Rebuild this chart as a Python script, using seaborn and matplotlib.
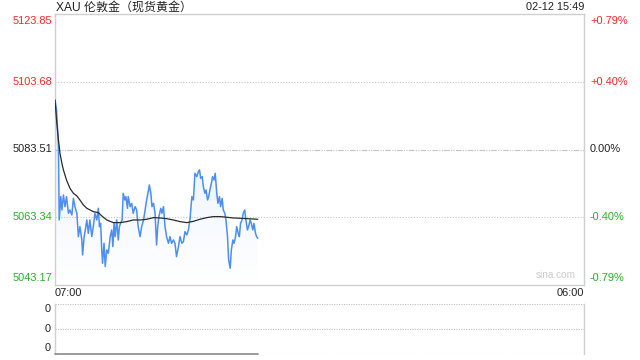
import numpy as np
import pandas as pd
import matplotlib
matplotlib.use("Agg")
import matplotlib.pyplot as plt
import seaborn as sns

# ---------------- data ----------------
# minutes after 07:00
price_minutes = [0, 4, 9, 11, 15, 18, 22, 26, 30, 35, 39, 44, 48, 52, 57, 61, 65, 70, 72, 76,
                 79, 83, 87, 91, 96, 100, 104, 109, 113, 116, 119, 122, 124, 128, 131, 135, 139, 144, 148, 151,
                 154, 157, 161, 165, 168, 171, 175, 178, 182, 185, 189, 191, 196, 200, 204, 209, 213, 217, 222, 226,
                 231, 235, 239, 244, 246, 250, 253, 257, 261, 265, 268, 271, 276, 279, 283, 287, 291, 296, 300, 304,
                 309, 313, 317, 322, 326, 331, 335, 339, 344, 348, 352, 357, 361, 365, 370, 374, 377, 380, 384, 387,
                 391, 394, 398, 401, 404, 408, 411, 415, 418, 422, 425, 429, 432, 436, 439, 443, 446, 450, 453, 457,
                 460, 464, 467, 471, 474, 478, 481, 484, 488, 491, 495, 498, 502, 505, 509, 512, 516, 519, 523, 526, 529]
price_values = [5098.25, 5095.27, 5084.36, 5062.53, 5069.48, 5065.51, 5069.97, 5066.50, 5069.48, 5064.52,
                5065.51, 5064.02, 5068.98, 5066.50, 5064.52, 5057.57, 5060.55, 5056.58, 5052.12, 5057.57,
                5059.56, 5062.53, 5058.56, 5062.53, 5057.57, 5060.55, 5064.52, 5062.53, 5066.01, 5060.55,
                5061.54, 5053.61, 5049.64, 5055.59, 5048.65, 5053.61, 5052.62, 5057.57, 5059.56, 5054.60,
                5061.54, 5057.57, 5062.53, 5056.58, 5060.55, 5061.54, 5062.53, 5070.47, 5068.48, 5069.48,
                5066.01, 5069.48, 5066.50, 5067.49, 5064.52, 5066.50, 5065.51, 5060.55, 5057.57, 5060.55,
                5062.53, 5065.51, 5068.48, 5071.46, 5072.95, 5070.47, 5066.50, 5067.49, 5064.52, 5055.10,
                5060.55, 5063.53, 5066.01, 5064.52, 5066.50, 5060.55, 5057.57, 5055.59, 5057.57, 5055.59,
                5056.58, 5055.59, 5051.62, 5054.60, 5057.57, 5055.59, 5056.09, 5059.06, 5058.07, 5059.56,
                5062.53, 5069.48, 5068.48, 5076.42, 5075.43, 5076.92, 5077.42, 5074.93, 5075.43, 5072.46,
                5070.47, 5071.46, 5068.48, 5069.48, 5071.46, 5073.45, 5075.43, 5074.44, 5076.42, 5070.47,
                5067.49, 5069.48, 5066.50, 5068.98, 5065.51, 5064.52, 5062.53, 5057.57, 5050.63, 5048.15,
                5053.61, 5056.58, 5055.59, 5057.57, 5060.55, 5058.56, 5057.57, 5061.54, 5062.53, 5064.52,
                5065.51, 5062.53, 5059.56, 5060.55, 5062.53, 5061.54, 5059.56, 5061.54, 5058.56, 5057.57, 5057.07]

avg_minutes = [0, 4, 9, 13, 18, 22, 30, 39, 48, 57, 65, 74, 83, 100, 113, 122, 135, 152, 170, 187,
               204, 222, 239, 257, 274, 291, 309, 326, 344, 361, 378, 396, 413, 431, 448, 465, 483, 500, 529]
avg_values = [5098.25, 5092.29, 5086.34, 5082.37, 5079.40, 5077.41, 5074.44, 5071.96, 5070.47, 5069.68,
              5068.48, 5066.99, 5066.01, 5065.01, 5064.72, 5063.73, 5062.53, 5061.74, 5061.74, 5062.04,
              5062.53, 5062.53, 5062.73, 5063.23, 5063.13, 5062.93, 5062.53, 5062.04, 5061.74, 5062.13,
              5062.73, 5063.23, 5063.53, 5063.53, 5063.34, 5063.13, 5063.04, 5062.93, 5062.73]

left_ticks = [5123.85, 5103.68, 5083.51, 5063.34, 5043.17]
left_labels = ["5123.85", "5103.68", "5083.51", "5063.34", "5043.17"]
right_labels = ["+0.79%", "+0.40%", "0.00%", "-0.40%", "-0.79%"]
tick_colors = ["#f2282b", "#f2282b", "#222222", "#2aad2a", "#2aad2a"]
x_labels = ["07:00", "06:00"]
vol_minutes = [0, 529]
vol_values = [0, 0]
vol_labels = ["0", "0", "0"]
title = "XAU 伦敦金（现货黄金）"
stamp = "02-12 15:49"

# ---------------- style ----------------
sns.set_theme(style="white")
plt.rcParams["font.family"] = ["Liberation Sans", "Noto Sans CJK SC", "DejaVu Sans"]

W, H = 640, 360
fig = plt.figure(figsize=(6.4, 3.6), dpi=100)
px = 0.72  # px -> pt


def fx(x):
    return x / W


def fy(y):
    return 1 - y / H


ax = fig.add_axes([fx(55), fy(285), fx(584) - fx(55), fy(14) - fy(285)])
axv = fig.add_axes([fx(55), fy(354), fx(584) - fx(55), fy(304) - fy(354)])

ymin, ymax = 5043.17, 5123.85
xmax = 1380

df = pd.DataFrame({"t": price_minutes, "p": price_values})
dfa = pd.DataFrame({"t": avg_minutes, "p": avg_values})

# gradient fill under price line
poly = ax.fill_between(df["t"], df["p"], ymin, color="none", lw=0)
grad = np.zeros((100, 2, 4))
base = matplotlib.colors.to_rgb("#5a95ee")
grad[..., 0], grad[..., 1], grad[..., 2] = base
alph = np.linspace(0.16, 0.0, 100)
grad[..., 3] = alph[:, None]
im = ax.imshow(grad, extent=[0, max(price_minutes), ymin, 5100], aspect="auto",
               origin="upper", zorder=1)
im.set_clip_path(poly.get_paths()[0], transform=ax.transData)

sns.lineplot(data=df, x="t", y="p", ax=ax, color="#4d8ff0", lw=1.1, zorder=3)
sns.lineplot(data=dfa, x="t", y="p", ax=ax, color="#2b2b2b", lw=0.9, zorder=4)

ax.set_xlim(0, xmax)
ax.set_ylim(ymin, ymax)
ax.set_xticks([])
ax.set_yticks([])
ax.set_xlabel("")
ax.set_ylabel("")
for s in ax.spines.values():
    s.set_color("#cfcfcf")
    s.set_linewidth(1)

# grid lines
ax.axhline(left_ticks[1], color="#c8c8c8", lw=0.8, ls=(0, (1, 1.5)), zorder=0)
ax.axhline(left_ticks[2], color="#c4c4c4", lw=0.8, ls=(0, (5, 1.2, 1, 1.2, 1, 1.2)), zorder=0)
ax.axhline(left_ticks[3], color="#c8c8c8", lw=0.8, ls=(0, (1, 1.5)), zorder=0)

fs = 11 * px
for i, (v, l, r, c) in enumerate(zip(left_ticks, left_labels, right_labels, tick_colors)):
    dy = 0
    if i == 0:
        dy = -7
    if i == len(left_ticks) - 1:
        dy = 7
    ax.annotate(l, xy=(0, v), xycoords=("axes fraction", "data"), xytext=(-3, dy),
                textcoords="offset pixels", ha="right", va="center", color=c, fontsize=fs)
    ax.annotate(r, xy=(1, v), xycoords=("axes fraction", "data"), xytext=(6, dy),
                textcoords="offset pixels", ha="left", va="center", color=c, fontsize=fs)

fig.text(fx(56), fy(7.5), title, ha="left", va="center", fontsize=12 * px, color="#222222")
fig.text(fx(584), fy(7.5), stamp, ha="right", va="center", fontsize=11 * px, color="#222222")
fig.text(fx(55), fy(293), x_labels[0], ha="left", va="center", fontsize=11 * px, color="#222222")
fig.text(fx(584), fy(293), x_labels[1], ha="right", va="center", fontsize=11 * px, color="#222222")
ax.text(0.985, 0.02, "sina.com", transform=ax.transAxes, ha="right", va="bottom",
        fontsize=10 * px, color="#cccccc")

# volume panel
dfv = pd.DataFrame({"t": vol_minutes, "v": vol_values})
axv.set_xlim(0, xmax)
axv.set_ylim(0, 1)
axv.axhline(1, color="#c0c0c0", lw=0.8, ls=(0, (1, 1.2)), zorder=0)
axv.axhline(0.5, color="#c0c0c0", lw=0.8, ls=(0, (1, 1.2)), zorder=0)
axv.axhline(0.0, color="#c0c0c0", lw=0.8, ls=(0, (1, 1.2)), zorder=0)
sns.lineplot(data=dfv, x="t", y="v", ax=axv, color="#8a8a8a", lw=1.2, zorder=3, clip_on=False)
axv.set_xticks([])
axv.set_yticks([])
axv.set_xlabel("")
axv.set_ylabel("")
for k in ["top", "bottom"]:
    axv.spines[k].set_visible(False)
for k in ["left", "right"]:
    axv.spines[k].set_color("#cfcfcf")
    axv.spines[k].set_linewidth(1)
for yv, lab in zip([1, 0.5, 0], vol_labels):
    axv.annotate(lab, xy=(0, yv), xycoords=("axes fraction", "data"), xytext=(-4, 6 if yv == 0 else (-5 if yv == 1 else 0)),
                 textcoords="offset pixels", ha="right", va="center", color="#222222", fontsize=fs)

fig.savefig("out.png", dpi=100)
